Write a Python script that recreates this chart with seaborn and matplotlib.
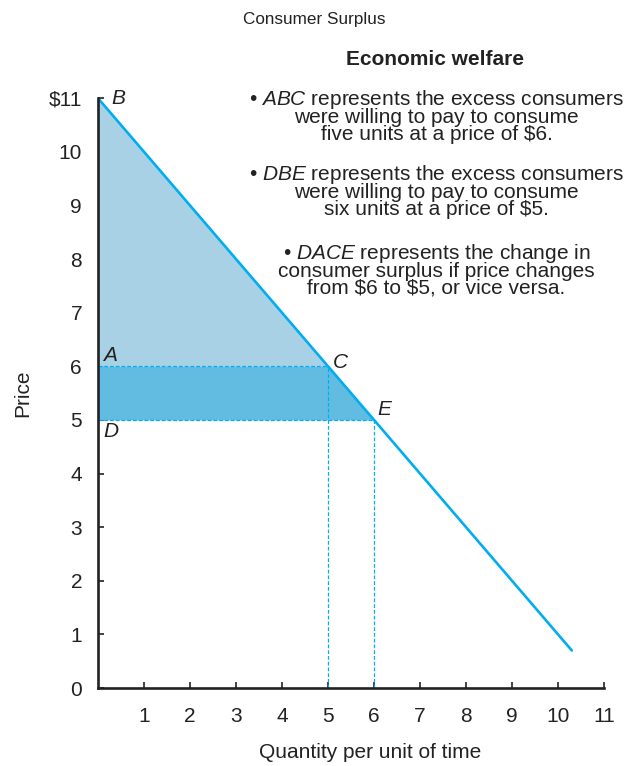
import matplotlib.pyplot as plt
import seaborn as sns
import pandas as pd

# demand curve end points
quantity = [0, 10.3]
price = [11, 0.7]

# surplus areas
abc_q = [0, 5]
abc_top = [11, 6]
abc_bottom = [6, 6]
dace_q = [0, 5, 6]
dace_top = [6, 6, 5]
dace_bottom = [5, 5, 5]

# guide points (C and E)
guide_q = [5, 6]
guide_p = [6, 5]

x_ticks = [1, 2, 3, 4, 5, 6, 7, 8, 9, 10, 11]
y_ticks = [0, 1, 2, 3, 4, 5, 6, 7, 8, 9, 10, 11]
y_labels = ["0", "1", "2", "3", "4", "5", "6", "7", "8", "9", "10", "$11"]

point_names = ["B", "A", "C", "D", "E"]
point_q = [0.3, 0.11, 5.11, 0.11, 6.07]
point_p = [11.0, 6.21, 6.08, 4.78, 5.19]

notes = [
    "\u2022 $ABC$ represents the excess consumers\nwere willing to pay to consume\nfive units at a price of \\$6.",
    "\u2022 $DBE$ represents the excess consumers\nwere willing to pay to consume\nsix units at a price of \\$5.",
    "\u2022 $DACE$ represents the change in\nconsumer surplus if price changes\nfrom \\$6 to \\$5, or vice versa.",
]
note_y = [0.8486, 0.7507, 0.648]

sns.set_style("white")
plt.rcParams['font.family'] = ['Liberation Sans', 'DejaVu Sans']
plt.rcParams['mathtext.fontset'] = 'custom'
plt.rcParams['mathtext.it'] = 'Liberation Sans:italic'
plt.rcParams['mathtext.rm'] = 'Liberation Sans'

line_col = "#00aeef"
ink = "#222222"

fig = plt.figure(figsize=(6.29, 7.66), dpi=100)
ax = fig.add_axes([0.1558, 0.1018, 0.8045, 0.770])

ax.fill_between(abc_q, abc_bottom, abc_top, color="#a8d1e5", lw=0)
ax.fill_between(dace_q, dace_bottom, dace_top, color="#62bbe0", lw=0)

df = pd.DataFrame({"q": quantity, "p": price})
sns.lineplot(data=df, x="q", y="p", ax=ax, color=line_col, lw=1.9)

for q, p in zip(guide_q, guide_p):
    ax.plot([0, q], [p, p], ls=(0, (3, 1.6)), color=line_col, lw=0.9)
    ax.plot([q, q], [0, p], ls=(0, (3, 1.6)), color=line_col, lw=0.9)

for name, q, p in zip(point_names, point_q, point_p):
    ax.text(q, p, name, style="italic", fontsize=15, va="center", ha="left", color=ink)

ax.set_xlim(0, 11)
ax.set_ylim(0, 11)
ax.set_xticks(x_ticks)
ax.set_yticks(y_ticks)
ax.set_yticklabels(y_labels)
ax.tick_params(bottom=True, left=True, direction="in", length=4, width=1.2,
               labelsize=15, colors=ink)
ax.tick_params(axis="x", pad=13.5)
ax.tick_params(axis="y", pad=11.5)
for s in ["top", "right"]:
    ax.spines[s].set_visible(False)
for s in ["left", "bottom"]:
    ax.spines[s].set_color(ink)
    ax.spines[s].set_linewidth(1.9)

ax.set_xlabel("Quantity per unit of time", fontsize=15, color=ink)
ax.xaxis.set_label_coords(0.537, -0.093)
ax.set_ylabel("Price", fontsize=15, labelpad=12, color=ink)

fig.text(0.5, 0.974, "Consumer Surplus", ha="center", va="center", fontsize=12.3, color=ink)
fig.text(0.692, 0.922, "Economic welfare", ha="center", va="center", fontsize=15, weight="bold", color=ink)
for note, y in zip(notes, note_y):
    fig.text(0.694, y, note, ha="center", va="center", fontsize=15,
             linespacing=0.83, color=ink)

plt.savefig("out.png", dpi=100)
